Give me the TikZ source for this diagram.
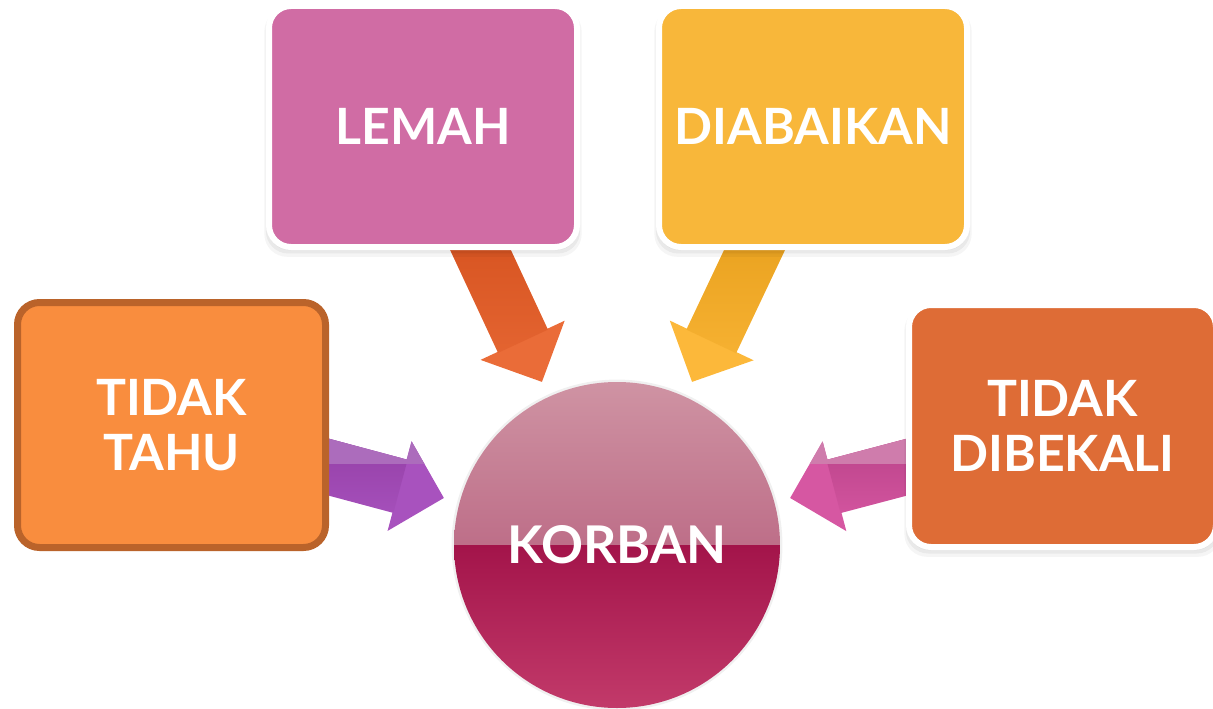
\documentclass[tikz,border=0pt]{standalone}
\usepackage{fontspec}
\setmainfont{Lato}
\usetikzlibrary{arrows.meta,fadings,calc,shadows}
\definecolor{lemahC}{HTML}{D06CA4}
\definecolor{diabC}{HTML}{F8B73A}
\definecolor{tahuC}{HTML}{F98D3E}
\definecolor{tahuB}{HTML}{BA632A}
\definecolor{bekC}{HTML}{DE6C36}
\definecolor{aLemTop}{HTML}{C94210}
\definecolor{aLemBot}{HTML}{EA6C38}
\definecolor{aDiaTop}{HTML}{DC920C}
\definecolor{aDiaBot}{HTML}{FCB83A}
\definecolor{aTahDark}{HTML}{8C389C}
\definecolor{aTahBot}{HTML}{A852BE}
\definecolor{aTahLight}{HTML}{AC6CBC}
\definecolor{aBekDark}{HTML}{AE3A7E}
\definecolor{aBekBot}{HTML}{D657A2}
\definecolor{aBekLight}{HTML}{CF7CAC}
\definecolor{korTop}{HTML}{CF93A3}
\definecolor{korMid}{HTML}{AC4A6E}
\definecolor{korDark}{HTML}{A3144A}
\definecolor{korBot}{HTML}{C23A6A}
\tikzfading[name=fadedown, top color=transparent!0, middle color=transparent!0, bottom color=transparent!100]
\pgfdeclarelayer{bg}
\pgfsetlayers{bg,main}
\begin{document}
\begin{tikzpicture}[x=1pt,y=-1pt,
  box/.style={rectangle, rounded corners=22pt, draw=white, line width=6pt,
    minimum width=308pt, minimum height=241pt, text=white, inner sep=0pt,
    font=\bfseries\fontsize{50}{55}\selectfont, align=center},
  soft/.style={general shadow={fill=black, opacity=0.05, shadow yshift=-2pt, shadow scale=1.01},
    general shadow={fill=black, opacity=0.05, shadow yshift=-4pt, shadow scale=1.02},
    general shadow={fill=black, opacity=0.04, shadow yshift=-6pt, shadow scale=1.03}},
  conn/.style={line width=55pt, -{Triangle[width=90pt,length=46pt]}},
  shaft/.style={line width=55pt, shorten >=45pt, path fading=fadedown}]
\useasboundingbox (0,0) rectangle (1213,709);
% boxes
\node[box, soft, fill=lemahC] (lemah) at (423,126.5) {LEMAH};
\node[box, soft, fill=diabC] (diab) at (813,126.5) {DIABAIKAN};
\node[box, fill=tahuC, draw=tahuB, line width=7pt, minimum height=245pt] (tahu) at (171.5,425) {TIDAK\\TAHU};
\node[box, soft, fill=bekC, minimum width=307pt, minimum height=242pt] (bek) at (1062.5,426) {TIDAK\\DIBEKALI};
% centre circle
\node[circle, minimum size=326pt, inner sep=0pt, text=white,
  font=\bfseries\fontsize{52}{56}\selectfont,
  general shadow={fill=black, opacity=0.06, shadow scale=1.015},
  path picture={
    \shade[top color=korTop, bottom color=korMid]
      (path picture bounding box.north west) rectangle (path picture bounding box.east);
    \shade[top color=korDark, bottom color=korBot]
      (path picture bounding box.west) rectangle (path picture bounding box.south east);
  }] (korban) at (617,545) {KORBAN};
% arrow tips
\coordinate (t1) at (542,382);
\coordinate (t2) at (692,382);
\coordinate (t3) at (444,498);
\coordinate (t4) at (790,498);
\begin{pgfonlayer}{bg}
\draw[conn, color=aLemBot] (lemah.center) -- (t1);
\draw[shaft, color=aLemTop] (lemah.center) -- (t1);
\draw[conn, color=aDiaBot] (diab.center) -- (t2);
\draw[shaft, color=aDiaTop] (diab.center) -- (t2);
\draw[conn, color=aTahBot] (tahu.center) -- (t3);
\draw[shaft, color=aTahDark] (tahu.center) -- (t3);
\begin{scope}
\clip (0,0) rectangle (1213,463);
\draw[conn, color=aTahLight] (tahu.center) -- (t3);
\end{scope}
\draw[conn, color=aBekBot] (bek.center) -- (t4);
\draw[shaft, color=aBekDark] (bek.center) -- (t4);
\begin{scope}
\clip (0,0) rectangle (1213,463);
\draw[conn, color=aBekLight] (bek.center) -- (t4);
\end{scope}
\end{pgfonlayer}
\end{tikzpicture}
\end{document}
